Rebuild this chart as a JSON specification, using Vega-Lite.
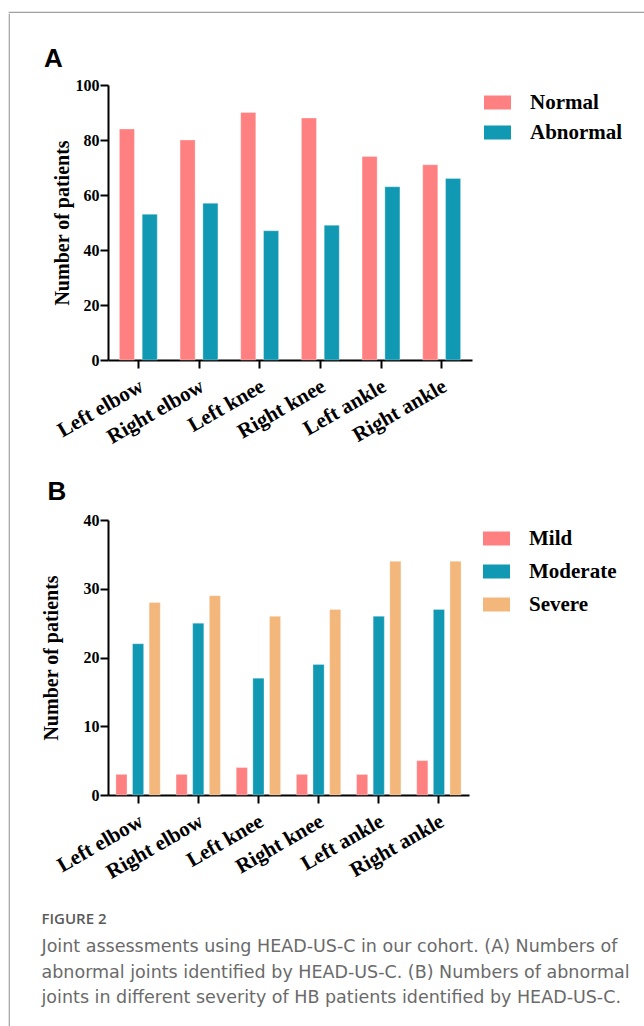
{
  "$schema": "https://vega.github.io/schema/vega-lite/v6.json",
  "background": "white",
  "padding": {"left": 8, "top": 11, "right": 0, "bottom": 0},
  "spacing": 0,
  "vconcat": [
    {
      "width": 636,
      "height": 0.01,
      "data": {"values": []},
      "mark": "point",
      "view": {"stroke": "#a0a0a0", "strokeWidth": 1.2}
    },
    {
      "spacing": 31,
      "hconcat": [
        {
          "width": 0.01,
          "height": 1015,
          "data": {"values": []},
          "mark": "point",
          "view": {"stroke": "#a0a0a0", "strokeWidth": 1.2}
        },
        {
          "spacing": 31,
          "resolve": {"scale": {"color": "independent", "xOffset": "independent", "x": "independent", "y": "independent"}, "legend": {"color": "independent"}},
          "title": {
            "text": "FIGURE 2",
            "subtitle": [
              "Joint assessments using HEAD-US-C in our cohort. (A) Numbers of",
              "abnormal joints identified by HEAD-US-C. (B) Numbers of abnormal",
              "joints in different severity of HB patients identified by HEAD-US-C."
            ],
            "orient": "bottom",
            "anchor": "start",
            "frame": "bounds",
            "dx": 0,
            "font": "Open Sans",
            "fontSize": 15,
            "fontWeight": 600,
            "color": "#5a5a5a",
            "subtitleFont": "DejaVu Sans",
            "subtitleFontSize": 17.5,
            "subtitleFontWeight": "normal",
            "subtitleColor": "#6a6a6a",
            "subtitleLineHeight": 25.5,
            "subtitlePadding": 11,
            "offset": 30
          },
          "vconcat": [
            {
              "width": 0.01,
              "height": 1,
              "data": {"values": []},
              "mark": "point"
            },
            {
              "width": 364,
              "height": 275,
              "title": {"text": "A", "anchor": "start", "frame": "bounds", "dx": -8, "font": "Liberation Sans", "fontSize": 26, "fontWeight": "bold", "color": "black", "offset": 5},
              "data": {"values": [
                {"joint": "Left elbow", "status": "Normal", "count": 84},
                {"joint": "Left elbow", "status": "Abnormal", "count": 53},
                {"joint": "Right elbow", "status": "Normal", "count": 80},
                {"joint": "Right elbow", "status": "Abnormal", "count": 57},
                {"joint": "Left knee", "status": "Normal", "count": 90},
                {"joint": "Left knee", "status": "Abnormal", "count": 47},
                {"joint": "Right knee", "status": "Normal", "count": 88},
                {"joint": "Right knee", "status": "Abnormal", "count": 49},
                {"joint": "Left ankle", "status": "Normal", "count": 74},
                {"joint": "Left ankle", "status": "Abnormal", "count": 63},
                {"joint": "Right ankle", "status": "Normal", "count": 71},
                {"joint": "Right ankle", "status": "Abnormal", "count": 66}
              ]},
              "mark": {"type": "bar", "stroke": "white", "strokeWidth": 0.6, "strokeOpacity": 0.5},
              "encoding": {
                "x": {"field": "joint", "type": "nominal", "sort": ["Left elbow", "Right elbow", "Left knee", "Right knee", "Left ankle", "Right ankle"], "scale": {"paddingInner": 0, "paddingOuter": 0}, "axis": {"title": null}},
                "xOffset": {"field": "status", "type": "nominal", "sort": ["Normal", "Abnormal"], "scale": {"paddingInner": 0.34, "paddingOuter": 0.5}},
                "y": {"field": "count", "type": "quantitative", "scale": {"domain": [0, 100], "nice": false}, "axis": {"values": [0, 20, 40, 60, 80, 100], "title": "Number of patients", "titlePadding": 3}},
                "color": {"field": "status", "type": "nominal", "sort": ["Normal", "Abnormal"], "scale": {"domain": ["Normal", "Abnormal"], "range": ["#FF8080", "#1199B3"]},
                  "legend": {"title": null, "orient": "none", "legendX": 379, "legendY": 7, "symbolType": "M-1.93,-1H1.93V1H-1.93Z", "symbolSize": 196, "labelOffset": 22, "rowPadding": 8}}
              }
            },
            {
              "width": 361,
              "height": 275,
              "title": {"text": "B", "anchor": "start", "frame": "bounds", "dx": 6, "font": "Liberation Sans", "fontSize": 26, "fontWeight": "bold", "color": "black", "offset": 7},
              "data": {"values": [
                {"joint": "Left elbow", "severity": "Mild", "count": 3},
                {"joint": "Left elbow", "severity": "Moderate", "count": 22},
                {"joint": "Left elbow", "severity": "Severe", "count": 28},
                {"joint": "Right elbow", "severity": "Mild", "count": 3},
                {"joint": "Right elbow", "severity": "Moderate", "count": 25},
                {"joint": "Right elbow", "severity": "Severe", "count": 29},
                {"joint": "Left knee", "severity": "Mild", "count": 4},
                {"joint": "Left knee", "severity": "Moderate", "count": 17},
                {"joint": "Left knee", "severity": "Severe", "count": 26},
                {"joint": "Right knee", "severity": "Mild", "count": 3},
                {"joint": "Right knee", "severity": "Moderate", "count": 19},
                {"joint": "Right knee", "severity": "Severe", "count": 27},
                {"joint": "Left ankle", "severity": "Mild", "count": 3},
                {"joint": "Left ankle", "severity": "Moderate", "count": 26},
                {"joint": "Left ankle", "severity": "Severe", "count": 34},
                {"joint": "Right ankle", "severity": "Mild", "count": 5},
                {"joint": "Right ankle", "severity": "Moderate", "count": 27},
                {"joint": "Right ankle", "severity": "Severe", "count": 34}
              ]},
              "mark": {"type": "bar", "stroke": "white", "strokeWidth": 0.6, "strokeOpacity": 0.5},
              "encoding": {
                "x": {"field": "joint", "type": "nominal", "sort": ["Left elbow", "Right elbow", "Left knee", "Right knee", "Left ankle", "Right ankle"], "scale": {"paddingInner": 0, "paddingOuter": 0}, "axis": {"title": null}},
                "xOffset": {"field": "severity", "type": "nominal", "sort": ["Mild", "Moderate", "Severe"], "scale": {"paddingInner": 0.33, "paddingOuter": 0.475}},
                "y": {"field": "count", "type": "quantitative", "scale": {"domain": [0, 40], "nice": false}, "axis": {"values": [0, 10, 20, 30, 40], "title": "Number of patients", "titlePadding": 21.5}},
                "color": {"field": "severity", "type": "nominal", "sort": ["Mild", "Moderate", "Severe"], "scale": {"domain": ["Mild", "Moderate", "Severe"], "range": ["#FF8080", "#1199B3", "#F3B77C"]},
                  "legend": {"title": null, "orient": "none", "legendX": 378, "legendY": 8, "symbolType": "M-1.93,-1H1.93V1H-1.93Z", "symbolSize": 196, "labelOffset": 22, "rowPadding": 11}}
              }
            }
          ]
        }
      ]
    }
  ],
  "config": {
    "view": {"stroke": null},
    "axis": {
      "domainColor": "black", "domainWidth": 2, "tickColor": "black", "tickWidth": 2, "tickSize": 8,
      "labelFont": "Liberation Serif", "labelFontWeight": "bold", "labelFontSize": 16, "labelColor": "black", "labelPadding": 1,
      "titleFont": "Liberation Serif", "titleFontWeight": "bold", "titleFontSize": 20, "titleColor": "black", "grid": false
    },
    "axisX": {"labelFontSize": 21, "labelAngle": -30, "labelPadding": 7, "labelOffset": -2},
    "legend": {"labelFont": "Liberation Serif", "labelFontWeight": "bold", "labelFontSize": 21, "labelColor": "black", "symbolOpacity": 1, "symbolStrokeWidth": 0}
  }
}
